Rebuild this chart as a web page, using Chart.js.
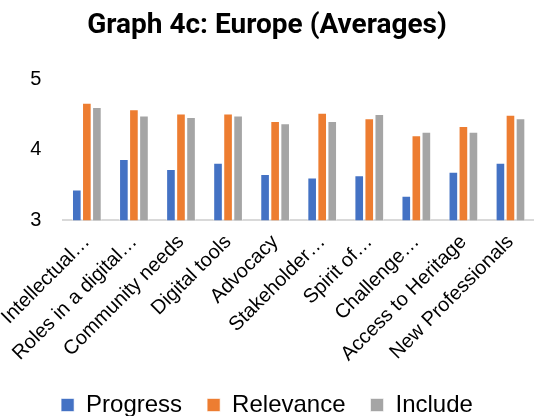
<!DOCTYPE html>
<html>
<head>
<meta charset="utf-8">
<script src="https://cdn.jsdelivr.net/npm/chart.js@4"></script>
<style>
  body { margin: 0; background: #fff; }
  #wrap { width: 534px; height: 416px; }
</style>
</head>
<body>
<div id="wrap"><canvas id="chart" width="534" height="416"></canvas></div>
<script>
const categories = [
  "Intellectual…", "Roles in a digital…", "Community needs", "Digital tools", "Advocacy",
  "Stakeholder…", "Spirit of…", "Challenge…", "Access to Heritage", "New Professionals"
];
const progress = [3.44, 3.87, 3.73, 3.82, 3.66, 3.61, 3.64, 3.35, 3.69, 3.82];
const relevance = [4.67, 4.58, 4.52, 4.52, 4.41, 4.53, 4.45, 4.21, 4.34, 4.50];
const include = [4.61, 4.49, 4.47, 4.49, 4.38, 4.41, 4.51, 4.26, 4.26, 4.45];
const yTicks = [3, 4, 5];

const labelFont = "'Liberation Sans', Arial, sans-serif";

const ctx = document.getElementById("chart");
new Chart(ctx, {
  type: "bar",
  data: {
    labels: categories,
    datasets: [
      { label: "Progress", data: progress, backgroundColor: "#4472c4" },
      { label: "Relevance", data: relevance, backgroundColor: "#ed7d31" },
      { label: "Include", data: include, backgroundColor: "#a5a5a5" }
    ].map((d) => ({
      ...d,
      borderColor: "rgba(255,255,255,0.6)",
      borderWidth: 1,
      categoryPercentage: 0.64,
      barPercentage: 0.96
    }))
  },
  options: {
    responsive: false,
    animation: false,
    // legend sits close to the bottom edge in the original
    layout: { padding: { left: 0, right: 0, top: 0, bottom: -11 } },
    plugins: {
      title: {
        display: true,
        text: "Graph 4c: Europe (Averages)",
        color: "#000",
        font: { family: "'Liberation Sans Narrow', 'Roboto', sans-serif", size: 28, weight: "bold" },
        padding: { top: 9, bottom: 37 }
      },
      legend: {
        position: "bottom",
        labels: {
          color: "#000",
          boxWidth: 13,
          boxHeight: 13,
          padding: 25,
          font: { family: labelFont, size: 24 }
        }
      },
      tooltip: { enabled: false }
    },
    scales: {
      x: {
        grid: { display: false },
        border: { display: true, color: "#d9d9d9", width: 2 },
        ticks: {
          color: "#000",
          maxRotation: 45,
          minRotation: 45,
          autoSkip: false,
          font: { family: labelFont, size: 20 },
          padding: 2
        }
      },
      y: {
        min: 3,
        max: 5,
        afterBuildTicks: (axis) => { axis.ticks = yTicks.map((v) => ({ value: v })); },
        afterFit: (axis) => { axis.width = 62; },
        grid: { display: false },
        border: { display: false },
        ticks: {
          color: "#000",
          padding: 14,
          font: { family: labelFont, size: 20 }
        }
      }
    }
  }
});
</script>
</body>
</html>
